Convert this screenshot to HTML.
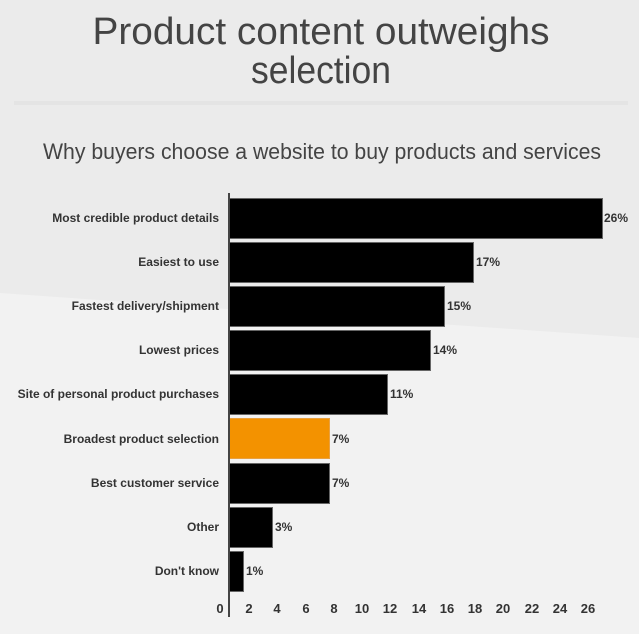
<!DOCTYPE html>
<html><head><meta charset="utf-8"><style>
html,body{margin:0;padding:0;background:#ebebeb;}
svg{display:block;font-family:"Liberation Sans",sans-serif;}
</style></head><body>
<svg width="639" height="634" viewBox="0 0 639 634">
<rect width="639" height="634" fill="#ebebeb"/>
<polygon points="0,293 639,338 639,634 0,634" fill="#f2f2f2"/>
<rect x="14" y="101" width="614" height="4" fill="#e4e4e4"/>
<text x="321" y="44" text-anchor="middle" font-size="38" fill="#444" textLength="457" lengthAdjust="spacingAndGlyphs">Product content outweighs</text>
<text x="321" y="83" text-anchor="middle" font-size="38" fill="#444" textLength="140" lengthAdjust="spacingAndGlyphs">selection</text>
<text x="322" y="159" text-anchor="middle" font-size="22" fill="#444" textLength="558" lengthAdjust="spacingAndGlyphs">Why buyers choose a website to buy products and services</text>
<g font-size="12" font-weight="bold" fill="#333" text-anchor="end">
<text x="219" y="222">Most credible product details</text>
<text x="219" y="266">Easiest to use</text>
<text x="219" y="310">Fastest delivery/shipment</text>
<text x="219" y="354">Lowest prices</text>
<text x="219" y="398">Site of personal product purchases</text>
<text x="219" y="443">Broadest product selection</text>
<text x="219" y="487">Best customer service</text>
<text x="219" y="531">Other</text>
<text x="219" y="575">Don't know</text>
</g>
<g stroke="#666" stroke-width="1">
<rect x="229.5" y="198.5" width="373" height="40" fill="#000"/>
<rect x="229.5" y="242.5" width="244" height="40" fill="#000"/>
<rect x="229.5" y="286.5" width="215" height="40" fill="#000"/>
<rect x="229.5" y="330.5" width="201" height="40" fill="#000"/>
<rect x="229.5" y="374.5" width="158" height="40" fill="#000"/>
<rect x="229.5" y="418.5" width="100" height="40" fill="#f39200" stroke="#e8a040"/>
<rect x="229.5" y="463.5" width="100" height="40" fill="#000"/>
<rect x="229.5" y="507.5" width="43" height="40" fill="#000"/>
<rect x="229.5" y="551.5" width="14" height="40" fill="#000"/>
</g>
<rect x="228" y="193" width="2" height="424" fill="#444"/>
<g font-size="12" font-weight="bold" fill="#333">
<text x="604" y="222">26%</text>
<text x="476" y="266">17%</text>
<text x="447" y="310">15%</text>
<text x="433" y="354">14%</text>
<text x="390" y="398">11%</text>
<text x="332" y="443">7%</text>
<text x="332" y="487">7%</text>
<text x="275" y="531">3%</text>
<text x="246" y="575">1%</text>
</g>
<g font-size="13" font-weight="bold" fill="#333" text-anchor="middle">
<text x="220" y="613">0</text>
<text x="249" y="613">2</text>
<text x="277" y="613">4</text>
<text x="306" y="613">6</text>
<text x="334" y="613">8</text>
<text x="362" y="613">10</text>
<text x="390" y="613">12</text>
<text x="419" y="613">14</text>
<text x="447" y="613">16</text>
<text x="475" y="613">18</text>
<text x="503" y="613">20</text>
<text x="532" y="613">22</text>
<text x="560" y="613">24</text>
<text x="588" y="613">26</text>
</g>
</svg>
</body></html>
